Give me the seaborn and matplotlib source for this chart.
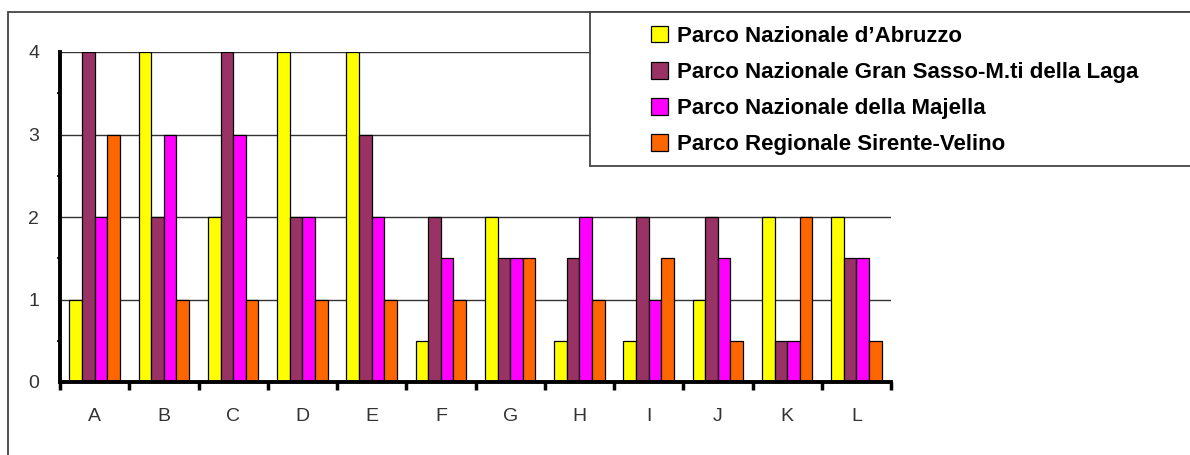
import numpy as np
import pandas as pd
import matplotlib
matplotlib.use("Agg")
import matplotlib.pyplot as plt
import seaborn as sns
from matplotlib.patches import Rectangle, Patch

categories = list("ABCDEFGHIJKL")
parks = ["Parco Nazionale d’Abruzzo",
         "Parco Nazionale Gran Sasso-M.ti della Laga",
         "Parco Nazionale della Majella",
         "Parco Regionale Sirente-Velino"]
abruzzo    = [1, 4, 2, 4, 4, 0.5, 2, 0.5, 0.5, 1, 2, 2]
gran_sasso = [4, 2, 4, 2, 3, 2, 1.5, 1.5, 2, 2, 0.5, 1.5]
majella    = [2, 3, 3, 2, 2, 1.5, 1.5, 2, 1, 1.5, 0.5, 1.5]
sirente    = [3, 1, 1, 1, 1, 1, 1.5, 1, 1.5, 0.5, 2, 0.5]
yticks = [0, 1, 2, 3, 4]
colors = ["#FFFF00", "#993366", "#FF00FF", "#FF6600"]

sns.set_style("white")
plt.rcParams["font.family"] = ["Liberation Sans", "DejaVu Sans"]

rows = []
for park, vals in zip(parks, [abruzzo, gran_sasso, majella, sirente]):
    for c, v in zip(categories, vals):
        rows.append({"cat": c, "park": park, "val": v})
df = pd.DataFrame(rows)

W, H = 1190, 455
fig = plt.figure(figsize=(W / 100, H / 100), dpi=100)
fig.patch.set_facecolor("white")
ax = fig.add_axes([60 / W, (H - 382) / H, (891 - 60) / W, (382 - 52) / H])

sns.barplot(data=df, x="cat", y="val", hue="park", hue_order=parks,
            order=categories, palette=colors, saturation=1,
            width=4 / 5.5, gap=0,
            edgecolor="black", linewidth=0.9, legend=False, ax=ax, zorder=3)

ax.set_xlim(-0.5, len(categories) - 0.5)
ax.set_ylim(0, 4)
ax.set_xlabel("")
ax.set_ylabel("")
ax.set_yticks(yticks)
ax.set_yticklabels([str(t) for t in yticks])
ax.set_yticks(np.arange(0.5, 4, 1.0), minor=True)
ax.set_xticks(np.arange(-0.5, len(categories), 1.0), minor=True)

ax.yaxis.grid(True, which="major", color="#333333", linewidth=1.0, zorder=0)
ax.set_axisbelow(True)
for s in ["top", "right"]:
    ax.spines[s].set_visible(False)
for s in ["left", "bottom"]:
    ax.spines[s].set_color("black")
    ax.spines[s].set_linewidth(2.8)
    ax.spines[s].set_zorder(4)

ax.tick_params(axis="y", which="major", length=5, width=2.2, color="black",
               direction="out", pad=10, labelsize=14, labelcolor="#333333")
ax.tick_params(axis="y", which="minor", length=2, width=1.2, color="black",
               direction="out", left=True)
ax.tick_params(axis="x", which="major", length=0, pad=19, labelsize=14,
               labelcolor="#333333")
ax.tick_params(axis="x", which="minor", length=6, width=2.5, color="black",
               direction="out", bottom=True)

# outer chart frame
fig.patches.append(Rectangle((8 / W, -0.2), 1.2, (H - 12) / H + 0.2,
                             transform=fig.transFigure, fill=False,
                             edgecolor="#444444", linewidth=1.3, zorder=1))
# legend box
fig.patches.append(Rectangle((590 / W, 1 - 166 / H), 1.0, (166 - 12) / H,
                             transform=fig.transFigure, facecolor="white",
                             edgecolor="#444444", linewidth=1.3, zorder=2))

handles = [Patch(facecolor=c, edgecolor="black", linewidth=0.9) for c in colors]
leg = fig.legend(handles, parks, loc="upper left",
                 bbox_to_anchor=(651 / W, 1 - 26 / H),
                 bbox_transform=fig.transFigure, frameon=False,
                 borderpad=0, borderaxespad=0, handlelength=0.75,
                 handleheight=0.75, handletextpad=0.4, labelspacing=0.68,
                 labelcolor="black",
                 prop={"family": "Liberation Sans", "weight": "bold", "size": 16})
leg.set_zorder(6)

fig.savefig("out.png", dpi=100, facecolor="white")
